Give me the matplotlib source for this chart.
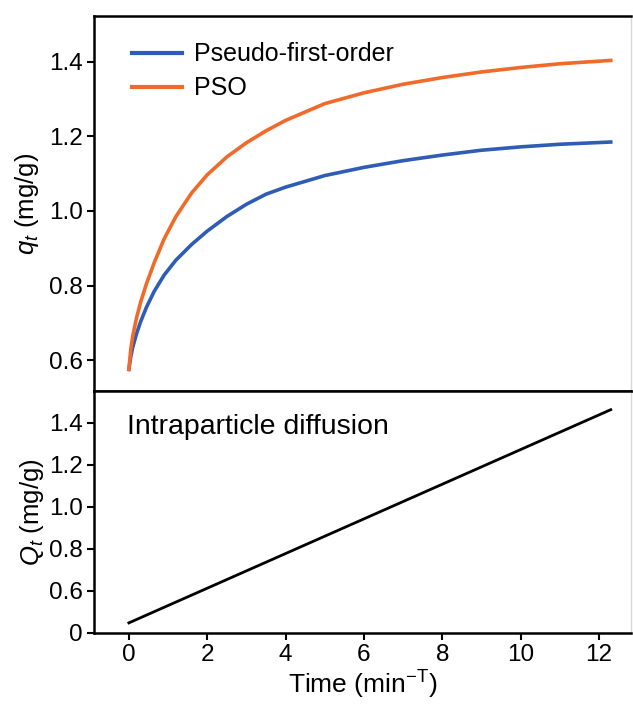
import numpy as np
import matplotlib
matplotlib.use("Agg")
import matplotlib.pyplot as plt

plt.rcParams['font.family'] = ['Liberation Sans', 'DejaVu Sans']
plt.rcParams['mathtext.fontset'] = 'custom'
plt.rcParams['mathtext.rm'] = 'Liberation Sans'
plt.rcParams['mathtext.it'] = 'Liberation Sans:italic'

# 读图得到的数据
t_fit = [0, 0.05, 0.1, 0.2, 0.3, 0.45, 0.65, 0.9, 1.2, 1.6, 2.0, 2.5, 3.0,
         3.5, 4, 5, 6, 7, 8, 9, 10, 11, 12.3]
q_pso = [0.575, 0.63, 0.665, 0.715, 0.755, 0.805, 0.862, 0.925, 0.985, 1.048, 1.097,
         1.145, 1.183, 1.215, 1.243, 1.288, 1.317, 1.34, 1.358, 1.373, 1.385, 1.395, 1.404]
q_pfo = [0.575, 0.61, 0.635, 0.672, 0.703, 0.742, 0.785, 0.828, 0.868, 0.91, 0.946,
         0.985, 1.018, 1.045, 1.064, 1.095, 1.117, 1.135, 1.15, 1.163, 1.172, 1.179, 1.185]

# 颗粒内扩散（下图y轴有断点，"0"位于0.4处）
t_ipd = [0, 12.3]
q_ipd = [0.448, 1.463]

x_ticks = [0, 2, 4, 6, 8, 10, 12]
top_yticks = [0.6, 0.8, 1.0, 1.2, 1.4]
bot_yticks = [0.4, 0.6, 0.8, 1.0, 1.2, 1.4]
bot_ylabels = ['0', '0.6', '0.8', '1.0', '1.2', '1.4']

blue = '#2f5cb5'
orange = '#f06a2a'

fig = plt.figure(figsize=(6.33, 7.04), dpi=100)
ax1 = fig.add_axes([0.1485, 0.4446, 0.8485, 0.5326])
ax2 = fig.add_axes([0.1485, 0.1009, 0.8485, 0.3437], sharex=ax1)

# 上图
ax1.plot(t_fit, q_pfo, color=blue, linewidth=2.6, label='Pseudo-first-order',
         solid_joinstyle='round')
ax1.plot(t_fit, q_pso, color=orange, linewidth=2.6, label='PSO',
         solid_joinstyle='round')
ax1.set_ylim(0.517, 1.523)
ax1.set_yticks(top_yticks)
ax1.set_yticklabels(['0.6', '0.8', '1.0', '1.2', '1.4'])
ax1.set_ylabel('$q_t$ (mg/g)', fontsize=18.5, labelpad=6)
ax1.tick_params(axis='x', bottom=False, labelbottom=False)
leg = ax1.legend(loc='upper left', bbox_to_anchor=(0.071, 0.93), frameon=False,
                 fontsize=18, handlelength=2.0, handletextpad=0.48,
                 labelspacing=0.4, borderpad=0, borderaxespad=0)
for h in leg.get_lines():
    h.set_linewidth(3.0)

# 下图
ax2.plot(t_ipd, q_ipd, color='black', linewidth=2.0)
ax2.set_ylim(0.4, 1.552)
ax2.set_yticks(bot_yticks)
ax2.set_yticklabels(bot_ylabels)
ax2.set_ylabel('$Q_t$ (mg/g)', fontsize=18.5, labelpad=2)
ax2.set_xlim(-0.89, 12.82)
ax2.set_xticks(x_ticks)
ax2.set_xlabel('Time (min$^{\\mathrm{-T}}$)', fontsize=19, labelpad=2)
ax2.text(0.0615, 0.85, 'Intraparticle diffusion', transform=ax2.transAxes,
         fontsize=20.5, va='center', ha='left')

for ax in (ax1, ax2):
    ax.tick_params(axis='both', direction='out', length=5, width=1.5,
                   labelsize=17.5, pad=3)
    for s in ('left', 'top', 'bottom'):
        ax.spines[s].set_linewidth(1.8)
    ax.spines['right'].set_color('#d8d8d8')
    ax.spines['right'].set_linewidth(1.0)

fig.savefig('out.png', dpi=100)
